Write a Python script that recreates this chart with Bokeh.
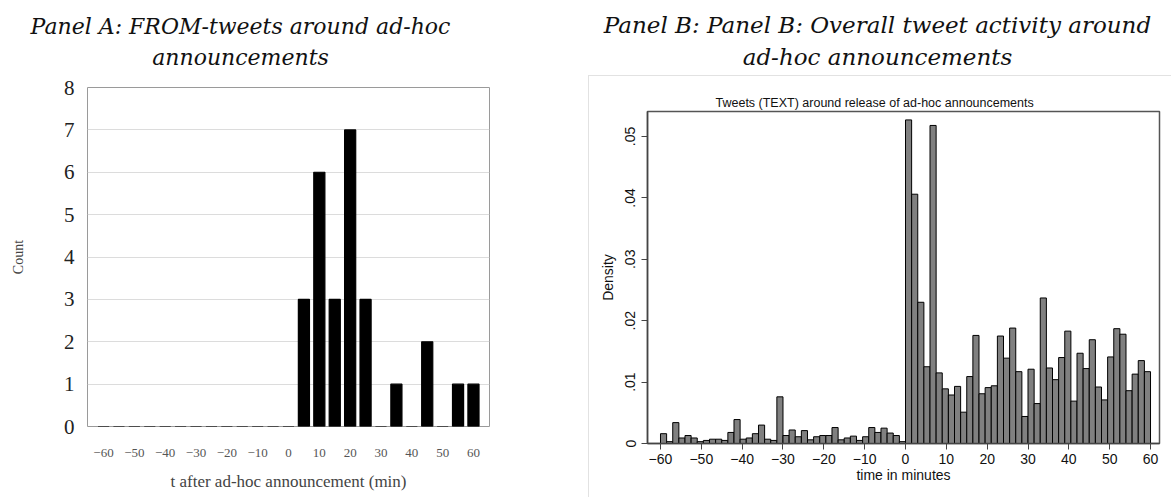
from bokeh.plotting import figure
from bokeh.layouts import row, column
from bokeh.models import Range1d, FixedTicker, CustomJSTickFormatter, Title
from bokeh.embed import file_html
from bokeh.resources import INLINE

# ---------------- data ----------------
# Panel A: counts of FROM-tweets per 5-minute bin (bin centres in minutes)
pa_minutes = [-60, -55, -50, -45, -40, -35, -30, -25, -20, -15, -10, -5, 0,
              5, 10, 15, 20, 25, 30, 35, 40, 45, 50, 55, 60]
pa_counts = [0, 0, 0, 0, 0, 0, 0, 0, 0, 0, 0, 0, 0,
             3, 6, 3, 7, 3, 0, 1, 0, 2, 0, 1, 1]
pa_xticks = [-60, -50, -40, -30, -20, -10, 0, 10, 20, 30, 40, 50, 60]
pa_yticks = [0, 1, 2, 3, 4, 5, 6, 7, 8]

# Panel B: density histogram, 80 bins of 1.5 minutes from -60 to 60
pb_bin_start = -60.0
pb_bin_width = 1.5
pb_density = [
    0.0016, 0.0003, 0.0034, 0.0009, 0.0013, 0.0009, 0.0003, 0.0005, 0.0007, 0.0007,
    0.0005, 0.0018, 0.0039, 0.0007, 0.0009, 0.0016, 0.0030, 0.0007, 0.0005, 0.0076,
    0.0013, 0.0022, 0.0011, 0.0021, 0.0006, 0.0011, 0.0013, 0.0013, 0.0026, 0.0006,
    0.0009, 0.0012, 0.0005, 0.0011, 0.0026, 0.0018, 0.0025, 0.0017, 0.0013, 0.0003,
    0.0527, 0.0406, 0.0230, 0.0125, 0.0518, 0.0115, 0.0089, 0.0079, 0.0093, 0.0051,
    0.0109, 0.0176, 0.0081, 0.0091, 0.0094, 0.0175, 0.0139, 0.0188, 0.0117, 0.0044,
    0.0121, 0.0065, 0.0237, 0.0123, 0.0104, 0.0140, 0.0183, 0.0069, 0.0147, 0.0122,
    0.0169, 0.0092, 0.0071, 0.0141, 0.0187, 0.0178, 0.0086, 0.0113, 0.0135, 0.0117,
]
pb_xticks = [-60, -50, -40, -30, -20, -10, 0, 10, 20, 30, 40, 50, 60]
pb_yticks = [0, 0.01, 0.02, 0.03, 0.04, 0.05]

title_a = ["Panel A: FROM-tweets around ad-hoc", "announcements"]
title_b = ["Panel B: Panel B: Overall tweet activity around", "ad-hoc announcements"]
stata_title = "Tweets (TEXT) around release of ad-hoc announcements"

HEAD_FONT = "DejaVu Serif"


def header(width, lines, right_pad, size):
    # the (invisible) frame is narrowed on the right so that centred titles land
    # over the centre of the panel image rather than over the full column
    h = figure(width=width, height=75, x_range=Range1d(0, 1), y_range=Range1d(0, 1),
               x_axis_location=None, y_axis_location=None, toolbar_location=None,
               output_backend="svg", min_border_left=0, min_border_right=right_pad,
               min_border_top=71, min_border_bottom=0, outline_line_color=None,
               frame_align=False)
    h.grid.visible = False
    # second line first: later titles are stacked above earlier ones
    for txt in reversed(lines):
        h.add_layout(Title(text=txt, align="center", standoff=4,
                           text_font=HEAD_FONT, text_font_style="italic",
                           text_font_size=size, text_color="#111111"), "above")
    return h


# ---------------- Panel A ----------------
head_a = header(588, title_a, 108, "22px")

pa = figure(width=588, height=423, x_range=Range1d(-65.2, 65.2), y_range=Range1d(0, 8),
            toolbar_location=None, output_backend="svg", frame_align=False,
            min_border_left=87, min_border_right=99, min_border_top=12, min_border_bottom=72)
pa.vbar(x=pa_minutes, top=pa_counts, bottom=0, width=3.6,
        fill_color="black", line_color="black", line_width=1.2)
pa.outline_line_color = "#9a9a9a"
pa.outline_line_width = 1
pa.xgrid.visible = False
pa.ygrid.ticker = FixedTicker(ticks=pa_yticks)
pa.ygrid.grid_line_color = "#dcdcdc"
pa.ygrid.grid_line_width = 1

pa.xaxis.ticker = FixedTicker(ticks=pa_xticks)
pa.yaxis.ticker = FixedTicker(ticks=pa_yticks)
for ax in (pa.xaxis[0], pa.yaxis[0]):
    ax.axis_line_color = None
    ax.major_tick_line_color = None
    ax.minor_tick_line_color = None
    ax.major_label_text_font = "Liberation Serif"
    ax.axis_label_text_font = "Liberation Serif"
    ax.axis_label_text_font_style = "normal"

pa.xaxis.axis_label = "t after ad-hoc announcement (min)"
pa.xaxis.major_label_text_font_size = "13px"
pa.xaxis.major_label_text_color = "#555555"
pa.xaxis.major_label_standoff = 16
pa.xaxis.axis_label_text_font_size = "17px"
pa.xaxis.axis_label_text_color = "#444444"
pa.xaxis.axis_label_standoff = 12

pa.yaxis.axis_label = "Count"
pa.yaxis.major_label_text_font_size = "21px"
pa.yaxis.major_label_text_color = "#222222"
pa.yaxis.major_label_standoff = 7
pa.yaxis.axis_label_text_font_size = "14px"
pa.yaxis.axis_label_text_color = "#444444"
pa.yaxis.axis_label_standoff = 35

# ---------------- Panel B ----------------
head_b = header(584, title_b, 6, "23px")

lefts = [pb_bin_start + i * pb_bin_width for i in range(len(pb_density))]
rights = [l + pb_bin_width for l in lefts]

pb = figure(width=583, height=422, x_range=Range1d(-63.18, 62.2), y_range=Range1d(0, 0.05407),
            toolbar_location=None, output_backend="svg", frame_align=False,
            min_border_left=58, min_border_right=13, min_border_top=35, min_border_bottom=55,
            styles={"border-left": "1px solid #e2e2e2", "border-top": "1px solid #e2e2e2"})
pb.quad(left=lefts, right=rights, bottom=0, top=pb_density,
        fill_color="#808080", line_color="black", line_width=1)
pb.grid.visible = False
pb.outline_line_color = "#555555"
pb.outline_line_width = 1.5

pb.title.text = stata_title
pb.title.align = "left"
pb.title.offset = 68
pb.title.standoff = 4
pb.title.text_font = "Liberation Sans"
pb.title.text_font_size = "12.5px"
pb.title.text_font_style = "normal"
pb.title.text_color = "#111111"

pb.xaxis.ticker = FixedTicker(ticks=pb_xticks)
pb.yaxis.ticker = FixedTicker(ticks=pb_yticks)
pb.yaxis.formatter = CustomJSTickFormatter(
    code="return tick == 0 ? '0' : tick.toFixed(2).replace(/^0/, '');")
for ax in (pb.xaxis[0], pb.yaxis[0]):
    ax.axis_line_color = "#444444"
    ax.axis_line_width = 1.5
    ax.major_tick_line_color = "#444444"
    ax.major_tick_out = 6
    ax.major_tick_in = 0
    ax.minor_tick_line_color = None
    ax.major_label_text_font = "Liberation Sans"
    ax.major_label_text_font_size = "14px"
    ax.major_label_text_color = "#111111"
    ax.axis_label_text_font = "Liberation Sans"
    ax.axis_label_text_font_size = "14px"
    ax.axis_label_text_font_style = "normal"
    ax.axis_label_text_color = "#111111"

pb.xaxis.axis_label = "time in minutes"
pb.xaxis.major_label_standoff = 4
pb.xaxis.axis_label_standoff = 0
pb.yaxis.axis_label = "Density"
pb.yaxis.major_label_orientation = "vertical"
pb.yaxis.major_label_standoff = 6
pb.yaxis.axis_label_standoff = 7

layout = row(column(head_a, pa), column(head_b, pb))
layout.spacing = 0

open("out.html", "w").write(file_html(layout, INLINE))
